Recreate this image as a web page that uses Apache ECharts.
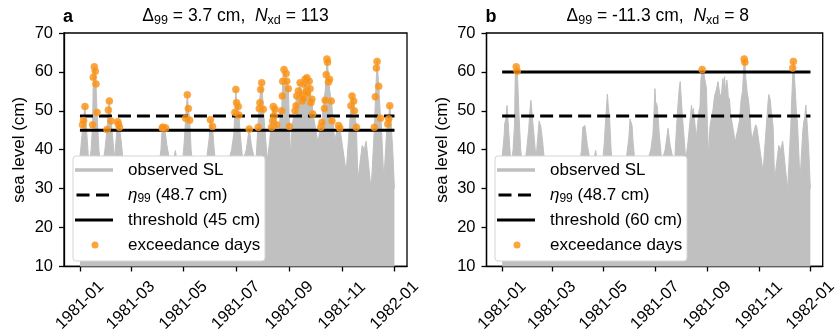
<!DOCTYPE html>
<html><head><meta charset="utf-8">
<script src="https://cdn.jsdelivr.net/npm/echarts@6/dist/echarts.min.js"></script>
<style>html,body{margin:0;padding:0;background:#fff}#c{width:840px;height:335px}</style>
</head><body><div id="c"></div>
<script>
// ---- data (day offset from 1981-01-01) ----
const slDay=[0,2.5,3,4.2,5.8,8,10.5,13,14.7,15.5,16.7,17.8,18.6,19.8,22,25,29,31.5,33,34.1,36.1,38,40,41,43.8,44.6,45.8,48,51,58,64,70,76,82,88,94,95.5,96.2,98,99.4,101,106,110.8,113,118,121,122.7,124.6,125.8,127.3,129,132,137,142,146,150,151.4,152.5,153.8,155,158,162,167,172,176,178.5,179.8,180.9,181.7,183.6,184.4,186,189,193,196.4,199,204,206.5,208,209.6,210.8,212.7,214,217.4,220,222.5,224.2,225.2,226.3,228.3,229.8,233,234.2,235.3,236.8,238.5,240,241.8,243,244.5,246,249.6,251.6,253.5,255.5,257.5,259.3,261.3,262.5,263.3,264.2,266,267,268,269.1,270.3,276,279.6,280.8,283,284.6,286.6,287.3,288.4,290,291.6,292.7,295.5,300.1,301.5,303.1,308.9,313,314.5,315.7,317.6,318.4,320.8,322.5,327.5,329.8,332.1,337.9,341.7,343,344.8,346.7,348.7,349.5,352.6,356,357.2,358.3,359.5,361,363,364.9];
const slVal=[38,44,46.6,47.7,51.4,44,36,40,46.6,58.8,61.5,60.4,57.1,49.8,40,34,40,45.4,50.4,52.7,47.6,43,38,40,47.4,46.8,46,42,35,36,30,37,31,36,30,40,45.8,46,46.2,45.8,41,35,39.8,36,34,42,48.3,54.3,50.8,47.8,40,34,37,31,36,43,47.9,47.9,46.2,42,35,38,32,37,40,44,49.8,55.7,52.3,51.3,49.1,44,37,40,45.5,41,36,46,51,55.6,57.5,51,47,37.3,42,47.6,51.4,49,50.6,46.6,43,50,51,58,60.9,60,58,56,46.5,38,46,50.3,54,55.3,57.5,54.5,53.5,58.3,55.5,58.8,54.8,57.9,55.9,52.3,53.2,49.4,42,46,47.3,53,55,63.5,62.7,58.5,55,52.7,50.5,42.4,46.4,45.8,46,34.3,47,51.5,54.2,52.7,50.2,46,32.2,41.1,40,42.2,29.7,46,54,62.9,56.5,48.3,47.4,32.2,45,47.3,48.5,51.5,47,39.8,30];
const exDay=[3.0,4.2,5.8,14.7,15.5,16.7,17.8,18.6,19.8,31.5,33.0,34.1,36.1,43.8,44.6,45.8,95.5,96.2,99.4,122.7,124.6,125.8,127.3,151.4,153.8,179.8,180.9,181.7,183.6,184.4,196.4,206.9,208.1,208.9,209.7,210.9,212.7,222.5,223.7,224.4,225.2,226.3,228.3,234.2,234.9,235.3,236.8,239.2,240.0,241.8,243.0,249.6,250.8,251.6,253.5,255.5,257.5,258.0,259.3,260.1,261.3,262.5,263.3,264.0,266.0,267.0,268.0,269.1,270.0,279.6,280.8,283.8,284.6,285.8,286.6,287.3,288.4,289.6,291.6,292.4,300.1,301.5,314.5,315.7,317.6,318.4,320.7,341.7,342.8,344.0,344.8,346.7,348.7,357.2,358.3,359.5];
const exVal=[46.4,47.5,51.1,46.4,58.6,61.3,60.2,56.9,49.6,45.2,50.2,52.5,47.4,47.2,46.6,45.8,45.6,45.8,45.6,48.1,54.1,50.6,47.6,47.7,46.0,49.6,55.5,52.1,51.1,48.9,45.3,45.8,50.6,52.1,55.5,57.2,50.4,45.8,47.4,51.1,48.7,50.4,46.4,50.0,53.8,57.6,60.6,59.6,57.6,55.7,46.0,50.0,51.3,53.8,55.1,57.2,54.2,52.5,53.1,56.8,58.1,55.1,58.5,54.5,57.6,55.7,52.1,53.0,49.2,45.8,47.0,50.6,52.7,59.3,63.3,62.5,57.4,58.1,52.5,47.4,46.2,45.6,51.3,53.8,52.5,50.0,45.8,45.8,53.6,61.0,62.7,56.3,48.1,46.6,47.9,51.3];
const spanDays=[0,365];
const eta99=48.7;
const thresholds=[45,60];
const deltas=['3.7','-11.3'];
const nxd=[113,8];
const panelLetters=['a','b'];
const tickDays=[0,59,120,181,243,304,365];
const tickLabels=['1981-01','1981-03','1981-05','1981-07','1981-09','1981-11','1982-01'];

const FONT='Liberation Sans, Arial, sans-serif';
const FS=17;
const GRAY='#c0c0c0', ORANGE='#fb8f0c';
const chart=echarts.init(document.getElementById('c'),null,{renderer:'canvas'});
const gridsPos=[{left:64,width:343},{left:486.5,width:342.5}];
const legendLeft=[75,497];
const boxLeft=[73,495];
// legend handle icons (38x14 box, invisible corner specks fix the box)
const BOX='M0,0h0.01v0.01h-0.01ZM37.99,13.99h0.01v0.01h-0.01Z';
const ICON_THICK='path://'+BOX+'M0,5.2H38V8.8H0Z';
const ICON_LINE='path://'+BOX+'M0,5.5H38V8.5H0Z';
const ICON_DASH='path://'+BOX+'M1.5,5.5H14.5V8.5H1.5ZM21,5.5H34V8.5H21Z';
const ICON_DOT='path://'+BOX+'M23.5,7A3.5,3.5,0,1,1,16.5,7A3.5,3.5,0,1,1,23.5,7Z';
const grids=[],xAxes=[],yAxes=[],series=[],legends=[],graphics=[];
const richLeg={
  i:{fontStyle:'italic',fontSize:FS,fontFamily:FONT,lineHeight:20,color:'#000'},
  s:{fontSize:12,fontFamily:FONT,lineHeight:10,verticalAlign:'bottom',color:'#000'},
  n:{fontSize:FS,fontFamily:FONT,lineHeight:20,color:'#000'}
};
const slData=slDay.map((d,i)=>[d,slVal[i]]);
for(let p=0;p<2;p++){
  const thr=thresholds[p];
  const thrName='threshold ('+thr+' cm)';
  grids.push({left:gridsPos[p].left,width:gridsPos[p].width,top:33,height:236,show:true,borderColor:'#000',borderWidth:1.3,backgroundColor:'transparent'});
  xAxes.push({type:'value',gridIndex:p,min:-18.5,max:379.5,splitLine:{show:false},
    axisLine:{onZero:false,lineStyle:{color:'#000',width:1.3}},
    axisTick:{customValues:tickDays,length:5,lineStyle:{color:'#000',width:1.3}},
    axisLabel:{customValues:tickDays,formatter:v=>tickLabels[tickDays.indexOf(v)],rotate:45,align:'center',verticalAlign:'middle',margin:39,fontSize:FS-0.5,color:'#000',fontFamily:FONT}});
  yAxes.push({type:'value',gridIndex:p,min:10,max:70,interval:10,splitLine:{show:false},
    axisLine:{show:true,onZero:false,lineStyle:{color:'#000',width:1.3}},
    axisTick:{show:true,length:5,lineStyle:{color:'#000',width:1.3}},
    axisLabel:{margin:11,fontSize:FS-0.5,color:'#000',fontFamily:FONT},
    name:'sea level (cm)',nameLocation:'middle',nameGap:36,nameTextStyle:{fontSize:FS,color:'#000',fontFamily:FONT}});
  series.push({name:'observed SL',type:'line',xAxisIndex:p,yAxisIndex:p,data:slData,symbol:'none',silent:true,z:1,
    lineStyle:{color:GRAY,width:1},itemStyle:{color:GRAY},areaStyle:{color:GRAY,opacity:1,origin:'start'}});
  series.push({name:'eta',type:'line',xAxisIndex:p,yAxisIndex:p,data:spanDays.map(d=>[d,eta99]),symbol:'none',silent:true,z:3,
    lineStyle:{color:'#000',width:3,type:[13,6]},itemStyle:{color:'#000'}});
  series.push({name:thrName,type:'line',xAxisIndex:p,yAxisIndex:p,data:spanDays.map(d=>[d,thr]),symbol:'none',silent:true,z:3,
    lineStyle:{color:'#000',width:3},itemStyle:{color:'#000'}});
  const pts=[];
  exDay.forEach((d,i)=>{if(exVal[i]>thr)pts.push([d,exVal[i]]);});
  series.push({name:'exceedance days',type:'scatter',xAxisIndex:p,yAxisIndex:p,data:pts,symbol:'circle',symbolSize:7,silent:true,z:5,
    itemStyle:{color:ORANGE,borderColor:'#f9a23a',borderWidth:0.8}});
  const lfmt=name=>name==='eta'?'{i|η}{s|99}{n| ('+eta99+' cm)}':'{n|'+name+'}';
  legends.push({orient:'vertical',left:legendLeft[p],top:160,padding:0,itemWidth:38,itemHeight:14,itemGap:5,symbolKeepAspect:false,selectedMode:false,z:200,
    data:[
      {name:'observed SL',icon:ICON_THICK,itemStyle:{color:GRAY,borderWidth:0}},
      {name:'eta',icon:ICON_DASH,itemStyle:{color:'#000',borderWidth:0}},
      {name:thrName,icon:ICON_LINE,itemStyle:{color:'#000',borderWidth:0}},
      {name:'exceedance days',icon:ICON_DOT,itemStyle:{color:ORANGE,borderWidth:0}}],
    formatter:lfmt,textStyle:{fontSize:FS,color:'#000',fontFamily:FONT,lineHeight:20,padding:[0,0,0,10],rich:richLeg}});
  graphics.push({type:'rect',z:100,shape:{x:boxLeft[p],y:156,width:192,height:105,r:3},style:{fill:'#fff',stroke:'#d5d5d5',lineWidth:1}});
  const cx=gridsPos[p].left+gridsPos[p].width/2;
  graphics.push({type:'text',z:100,style:{x:cx,y:16,align:'center',verticalAlign:'middle',
    text:'{n|Δ}{s|99}{n| = '+deltas[p]+' cm,  }{i|N}{s|xd}{n| = '+nxd[p]+'}',
    fill:'#000',fontSize:17.5,fontFamily:FONT,
    rich:{n:{fontSize:17.5,fontFamily:FONT,lineHeight:22},i:{fontSize:17.5,fontStyle:'italic',fontFamily:FONT,lineHeight:22},s:{fontSize:12.5,fontFamily:FONT,lineHeight:11,verticalAlign:'bottom'}}}});
  graphics.push({type:'text',z:100,style:{x:gridsPos[p].left-1,y:17,align:'left',verticalAlign:'middle',text:panelLetters[p],fill:'#000',fontSize:18,fontWeight:'bold',fontFamily:FONT}});
}
chart.setOption({animation:false,backgroundColor:'#fff',grid:grids,xAxis:xAxes,yAxis:yAxes,series:series,legend:legends,graphic:{elements:graphics}});
</script></body></html>
